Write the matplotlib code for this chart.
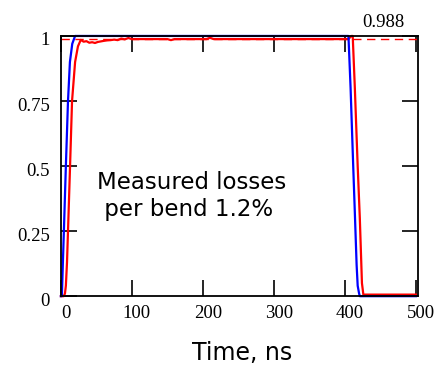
import matplotlib
matplotlib.use("Agg")
import matplotlib.pyplot as plt
import matplotlib.transforms as mtransforms

# blue trace (normalised signal vs time)
t_blue = [0, 1.4, 2.8, 4.2, 7, 10, 12.7, 16, 20, 405, 408, 411.7, 414, 416.5, 418, 420, 421, 500]
v_blue = [0, 0, 0.13, 0.25, 0.5, 0.75, 0.9, 0.97, 1.0, 1.0, 0.8, 0.5, 0.32, 0.12, 0.04, 0.01, 0, 0]

# red trace
t_red = [0, 4, 5.7, 7, 8.6, 10, 12.9, 15.7, 20, 24, 28, 32, 36, 40, 44, 48, 52, 56, 60,
         65, 70, 75, 80, 85, 90, 95, 100, 150, 155, 160, 205, 210, 215, 405, 409, 411,
         414, 418, 421, 424, 426, 500]
v_red = [0, 0, 0.01, 0.04, 0.13, 0.25, 0.5, 0.75, 0.9, 0.96, 0.985, 0.978, 0.980, 0.974,
         0.976, 0.973, 0.977, 0.979, 0.981, 0.983, 0.984, 0.986, 0.984, 0.99, 0.987, 0.992,
         0.988, 0.988, 0.984, 0.988, 0.988, 0.993, 0.988, 0.988, 1.0, 1.0, 0.8, 0.5, 0.3,
         0.05, 0.006, 0.006]

level = 0.988
x_ticks = [0, 100, 200, 300, 400, 500]
y_ticks = [0, 0.25, 0.5, 0.75, 1]
y_labels = ["0", "0.25", "0.5", "0.75", "1"]

serif = ["Liberation Serif", "DejaVu Serif"]

fig = plt.figure(figsize=(4.35, 3.67), dpi=100)
ax = fig.add_axes([0.140, 0.193, 0.821, 0.709])

ax.axhline(level, color="red", lw=1.0, ls=(0, (6, 4)))
ax.plot(t_red, v_red, color="red", lw=1.6, clip_on=False)
ax.plot(t_blue, v_blue, color="blue", lw=1.6, clip_on=False)

ax.set_xlim(0, 503)
ax.set_ylim(0, 1)
ax.set_xticks(x_ticks)
ax.set_yticks(y_ticks)
ax.set_yticklabels(y_labels)
ax.tick_params(direction="in", length=11.5, width=1.2, top=True, right=True,
               labelsize=13.5, pad=6)
ax.tick_params(axis="y", pad=8)
for lab in ax.get_xticklabels() + ax.get_yticklabels():
    lab.set_family(serif)
for sp in ax.spines.values():
    sp.set_linewidth(1.3)

xshift = mtransforms.ScaledTranslation(5 / 100, 0, fig.dpi_scale_trans)
for lab in ax.get_xticklabels():
    lab.set_transform(lab.get_transform() + xshift)
yshift = mtransforms.ScaledTranslation(0, -3 / 100, fig.dpi_scale_trans)
for lab in ax.get_yticklabels():
    lab.set_transform(lab.get_transform() + yshift)

fig.text(0.881, 0.94, "0.988", ha="center", va="center", fontsize=13.5, family=serif)
ax.text(0.10, 0.385, "Measured losses\n per bend 1.2%", transform=ax.transAxes,
        ha="left", va="center", fontsize=16.5, linespacing=1.2)
fig.text(0.556, 0.038, "Time, ns", ha="center", va="center", fontsize=17)

fig.savefig("out.png", dpi=100)
